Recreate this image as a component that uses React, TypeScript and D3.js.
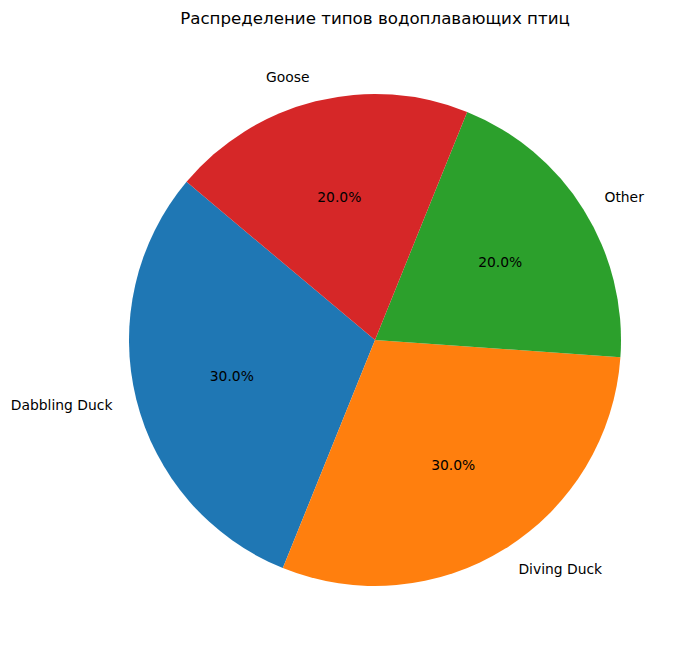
import React from "react";
import * as d3 from "d3";

const categories = ["Dabbling Duck", "Diving Duck", "Other", "Goose"];
const values = [30, 30, 20, 20];
const colors = ["#1f77b4", "#ff7f0e", "#2ca02c", "#d62728"];
const title = "Распределение типов водоплавающих птиц";

export default function App() {
  const W = 693, H = 658;
  const cx = 375, cy = 340, r = 246;
  const startDeg = 140; // matplotlib startangle, counterclockwise
  const toRad = (d: number) => (d * Math.PI) / 180;
  const pie = d3
    .pie<number>()
    .sort(null)
    .value((d) => d)
    .startAngle(toRad(90 - startDeg))
    .endAngle(toRad(90 - startDeg - 360));
  const arcs = pie(values);
  const arc = d3.arc<d3.PieArcDatum<number>>().innerRadius(0).outerRadius(r);
  const total = d3.sum(values);
  const font = "'DejaVu Sans', sans-serif";

  return (
    <svg width={W} height={H} style={{ position: "absolute", left: 0, top: 0 }}>
      <rect width={W} height={H} fill="#fff" />
      <text x={cx} y={18} textAnchor="middle" dominantBaseline="central" fontFamily={font} fontSize={16.67} fill="#000">
        {title}
      </text>
      <g transform={`translate(${cx},${cy})`}>
        {arcs.map((a, i) => (
          <path key={i} d={arc(a) || ""} fill={colors[i]} />
        ))}
        {arcs.map((a, i) => {
          const m = (a.startAngle + a.endAngle) / 2;
          const lx = 1.1 * r * Math.sin(m);
          const ly = -1.1 * r * Math.cos(m);
          const px = 0.6 * r * Math.sin(m);
          const py = -0.6 * r * Math.cos(m);
          return (
            <g key={"t" + i}>
              <text x={lx} y={ly} textAnchor={lx < 0 ? "end" : "start"} dominantBaseline="central" fontFamily={font} fontSize={13.89} fill="#000">
                {categories[i]}
              </text>
              <text x={px} y={py} textAnchor="middle" dominantBaseline="central" fontFamily={font} fontSize={13.89} fill="#000">
                {((values[i] / total) * 100).toFixed(1) + "%"}
              </text>
            </g>
          );
        })}
      </g>
    </svg>
  );
}
